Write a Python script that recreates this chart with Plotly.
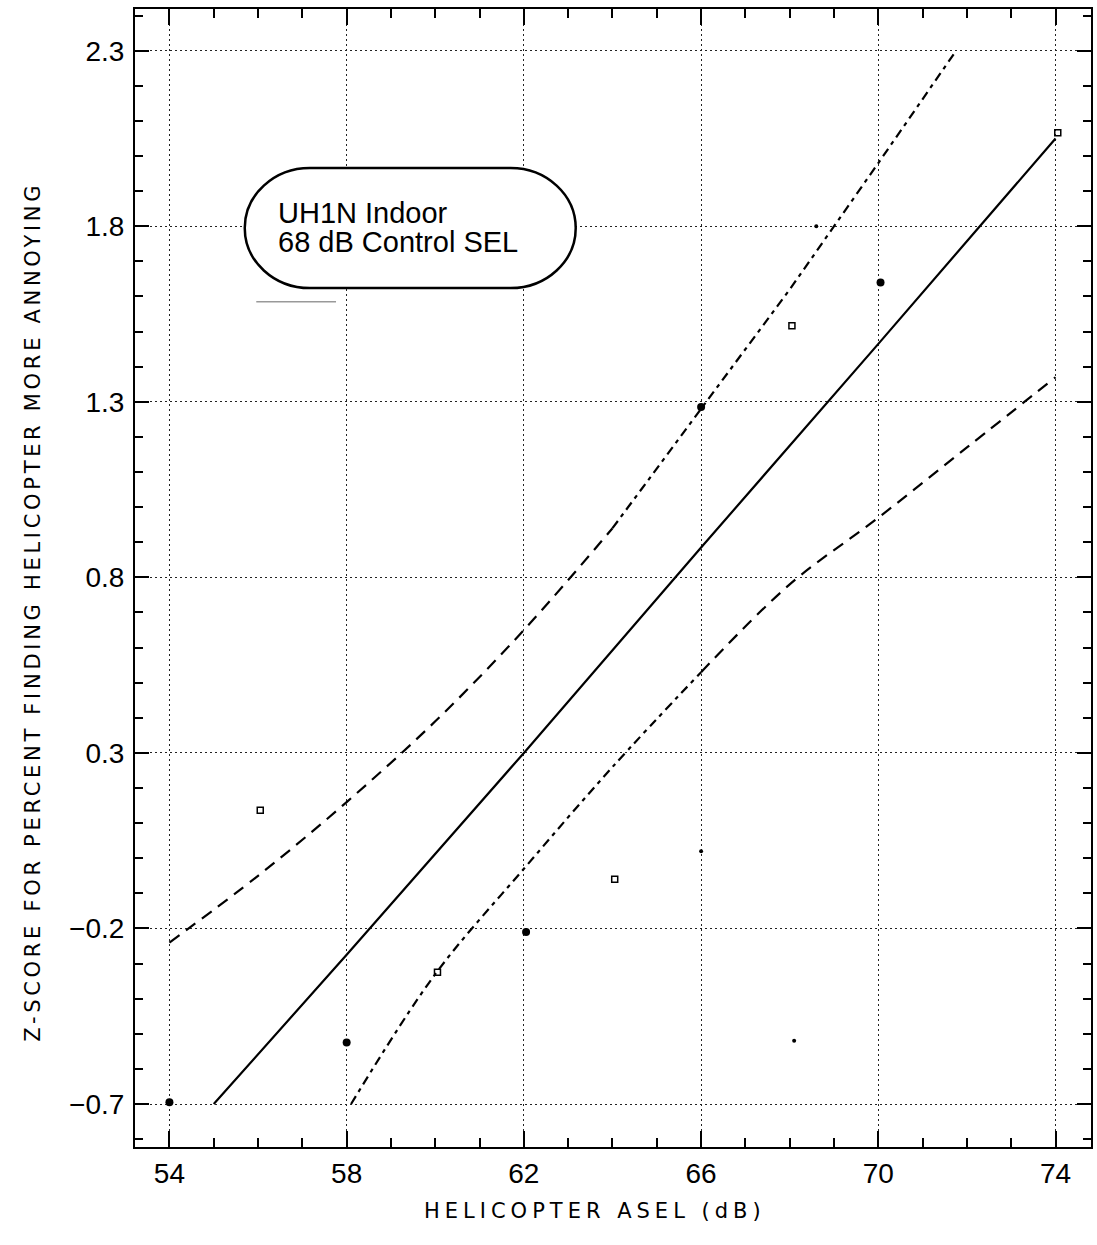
import plotly.graph_objects as go

# ---------------- data ----------------
filled_x = [54.0, 58.0, 62.05, 66.0, 70.05]
filled_y = [-0.695, -0.525, -0.21, 1.285, 1.64]

open_x = [56.05, 60.05, 64.05, 68.05, 74.05]
open_y = [0.137, -0.325, -0.06, 1.517, 2.066]

small_x = [66.0, 68.1, 68.6]
small_y = [0.02, -0.52, 1.80]

fit_x = [55.0, 58.0, 62.0, 66.0, 70.0, 74.0]
fit_y = [-0.70, -0.275, 0.30, 0.885, 1.465, 2.05]

upper_x_a = [54.0, 56.0, 58.0, 60.0, 62.0, 64.0]
upper_y_a = [-0.24, -0.05, 0.16, 0.39, 0.65, 0.94]
upper_x_b = [64.0, 66.0, 68.0, 70.0, 71.7]
upper_y_b = [0.94, 1.28, 1.62, 1.98, 2.29]

lower_x_a = [58.1, 60.0, 62.0, 64.0, 66.0]
lower_y_a = [-0.70, -0.33, -0.03, 0.26, 0.53]
lower_x_b = [66.0, 68.0, 70.0, 72.0, 74.0]
lower_y_b = [0.53, 0.78, 0.97, 1.17, 1.37]

x_ticks = [54, 58, 62, 66, 70, 74]
y_ticks = [-0.7, -0.2, 0.3, 0.8, 1.3, 1.8, 2.3]

box_lines = ["UH1N Indoor", "68 dB Control SEL"]
x_title = "HELICOPTER ASEL (dB)"
y_title = "Z-SCORE FOR PERCENT FINDING HELICOPTER MORE ANNOYING"

# ---------------- figure ----------------
fig = go.Figure()

LONG_DASH = "12px,8px"
DASH_DOT = "9px,5px,4px,5px"

fig.add_trace(go.Scatter(x=fit_x, y=fit_y, mode="lines",
                         line=dict(color="black", width=2.2), showlegend=False))
fig.add_trace(go.Scatter(x=upper_x_a, y=upper_y_a, mode="lines",
                         line=dict(color="black", width=2.2, dash=LONG_DASH, shape="spline"),
                         showlegend=False))
fig.add_trace(go.Scatter(x=upper_x_b, y=upper_y_b, mode="lines",
                         line=dict(color="black", width=2.2, dash=DASH_DOT),
                         showlegend=False))
fig.add_trace(go.Scatter(x=lower_x_a, y=lower_y_a, mode="lines",
                         line=dict(color="black", width=2.2, dash=DASH_DOT, shape="spline"),
                         showlegend=False))
fig.add_trace(go.Scatter(x=lower_x_b, y=lower_y_b, mode="lines",
                         line=dict(color="black", width=2.2, dash=LONG_DASH, shape="spline"),
                         showlegend=False))

fig.add_trace(go.Scatter(x=filled_x, y=filled_y, mode="markers",
                         marker=dict(symbol="circle", size=8, color="black"),
                         showlegend=False))
fig.add_trace(go.Scatter(x=open_x, y=open_y, mode="markers",
                         marker=dict(symbol="square-open", size=6, color="black",
                                     line=dict(width=1.5, color="black")),
                         showlegend=False))
fig.add_trace(go.Scatter(x=small_x, y=small_y, mode="markers",
                         marker=dict(symbol="circle", size=4, color="black"),
                         showlegend=False))

# rounded label box (stadium shape)
bx0, bx1 = 55.70, 63.17
by0, by1 = 1.624, 1.966
rx = 1.47
ry = (by1 - by0) / 2
yc = (by0 + by1) / 2
k = 0.5523
path = (
    f"M {bx0 + rx},{by1} L {bx1 - rx},{by1} "
    f"C {bx1 - rx + k * rx},{by1} {bx1},{yc + k * ry} {bx1},{yc} "
    f"C {bx1},{yc - k * ry} {bx1 - rx + k * rx},{by0} {bx1 - rx},{by0} "
    f"L {bx0 + rx},{by0} "
    f"C {bx0 + rx - k * rx},{by0} {bx0},{yc - k * ry} {bx0},{yc} "
    f"C {bx0},{yc + k * ry} {bx0 + rx - k * rx},{by1} {bx0 + rx},{by1} Z"
)
fig.add_shape(type="path", path=path, xref="x", yref="y",
              line=dict(color="black", width=2.5), fillcolor="white", layer="above")
fig.add_shape(type="line", x0=55.96, x1=57.76, y0=1.585, y1=1.585, xref="x", yref="y",
              line=dict(color="#999999", width=1.5))

fig.add_annotation(x=56.41, y=1.839, xref="x", yref="y", text=box_lines[0],
                   showarrow=False, xanchor="left", yanchor="middle",
                   font=dict(family="Liberation Sans, Arial, sans-serif", size=29, color="black"))
fig.add_annotation(x=56.41, y=1.754, xref="x", yref="y", text=box_lines[1],
                   showarrow=False, xanchor="left", yanchor="middle",
                   font=dict(family="Liberation Sans, Arial, sans-serif", size=29, color="black"))

# axis titles
fig.add_annotation(x=-0.1065, y=0.4706, xref="paper", yref="paper", text=y_title,
                   textangle=-90, showarrow=False, xanchor="center", yanchor="middle",
                   font=dict(family="DejaVu Sans, sans-serif", size=21, color="black"))
fig.add_annotation(x=0.4807, y=-0.0562, xref="paper", yref="paper", text=x_title,
                   showarrow=False, xanchor="center", yanchor="middle",
                   font=dict(family="DejaVu Sans, sans-serif", size=21, color="black"))

axis_common = dict(
    showline=True, linecolor="black", linewidth=2, mirror="ticks",
    ticks="inside", tickcolor="black", tickwidth=2,
    showgrid=True, gridcolor="#222222", gridwidth=1, griddash="2px,3px",
    zeroline=False,
    tickfont=dict(family="Liberation Sans, Arial, sans-serif", size=28, color="black"),
)

fig.update_xaxes(**axis_common, range=[53.223, 74.80], tickvals=x_ticks,
                 ticktext=[str(v) for v in x_ticks], ticklen=16,
                 minor=dict(ticks="inside", dtick=1, tick0=54, ticklen=9,
                            tickwidth=1.5, tickcolor="black", showgrid=False))
fig.update_yaxes(**axis_common, range=[-0.8224, 2.4188], tickvals=y_ticks,
                 ticktext=[("\u2212" if v < 0 else "") + f"{abs(v):.1f}" for v in y_ticks],
                 ticklen=14, ticklabelstandoff=3,
                 minor=dict(ticks="inside", dtick=0.1, tick0=0.3, ticklen=8,
                            tickwidth=1.5, tickcolor="black", showgrid=False))

fig.update_layout(
    width=1097, height=1245,
    margin=dict(l=135, r=4, t=9, b=98),
    paper_bgcolor="white", plot_bgcolor="white",
    font=dict(family="Liberation Sans, Arial, sans-serif", color="black"),
)

post_js = """
document.body.style.margin = '0';
document.body.style.overflow = 'hidden';
document.querySelectorAll('.annotation-text').forEach(function (t) {
  var s = t.textContent;
  if (s.indexOf('Z-SCORE') === 0) { t.setAttribute('letter-spacing', '3.7px'); }
  if (s.indexOf('HELICOPTER ASEL') === 0) { t.setAttribute('letter-spacing', '5px'); }
});
"""

fig.write_html("out.html", post_script=post_js, config={"displayModeBar": False})
